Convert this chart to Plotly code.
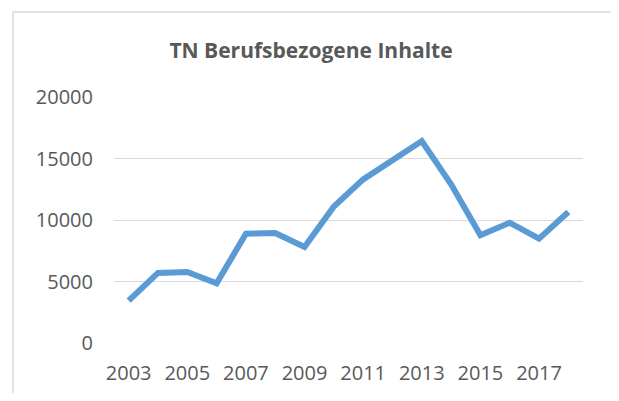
import plotly.graph_objects as go

years = [2003, 2004, 2005, 2006, 2007, 2008, 2009, 2010, 2011, 2012, 2013, 2014, 2015, 2016, 2017, 2018]
values = [3450, 5700, 5770, 4850, 8880, 8940, 7800, 11100, 13300, 14850, 16420, 12900, 8760, 9780, 8480, 10650]
x_ticks = [2003, 2005, 2007, 2009, 2011, 2013, 2015, 2017]
y_ticks = [0, 5000, 10000, 15000, 20000]
title_text = "TN Berufsbezogene Inhalte"

# page has an 8px body margin; figure is placed at (8, 8)
OFF = 8
W, H = 619 - OFF, 401 - 2 * OFF
L, R, T, B = 114 - OFF, 36, 97 - OFF, 50

fig = go.Figure()
fig.add_trace(go.Scatter(
    x=years, y=values, mode="lines",
    line=dict(color="#5b9bd5", width=6),
    hoverinfo="x+y", showlegend=False,
))

pw = W - L - R
ph = H - T - B
fig.add_shape(
    type="rect", xref="paper", yref="paper",
    x0=(13 - OFF - L) / pw, x1=(617 - OFF - L) / pw,
    y0=-(B + 20) / ph, y1=(H - B - (12 - OFF)) / ph,
    line=dict(color="#d9d9d9", width=1.5), fillcolor="rgba(0,0,0,0)", layer="below",
)

fig.update_layout(
    width=W, height=H,
    margin=dict(l=L, r=R, t=T, b=B, pad=0, autoexpand=False),
    paper_bgcolor="white", plot_bgcolor="white",
    font=dict(family="Open Sans", size=20, color="#595959"),
    title=dict(
        text="<b>" + title_text + "</b>", xref="container", yref="container",
        x=(311 - OFF) / W, xanchor="center", y=1 - (51 - OFF) / H, yanchor="middle",
        font=dict(family="Open Sans", size=21, color="#595959"),
    ),
    xaxis=dict(
        range=[2002.5, 2018.5], tickvals=x_ticks, ticktext=[str(v) for v in x_ticks],
        showgrid=False, zeroline=False, showline=False, ticks="",
        ticklabelstandoff=16, fixedrange=True, automargin=False,
    ),
    yaxis=dict(
        range=[0, 20000], tickvals=y_ticks, ticktext=[str(v) for v in y_ticks],
        showgrid=True, gridcolor="#d9d9d9", gridwidth=1, zeroline=False,
        showline=False, ticks="", ticklabelstandoff=20, fixedrange=True, automargin=False,
    ),
)

fig.write_html("out.html")
